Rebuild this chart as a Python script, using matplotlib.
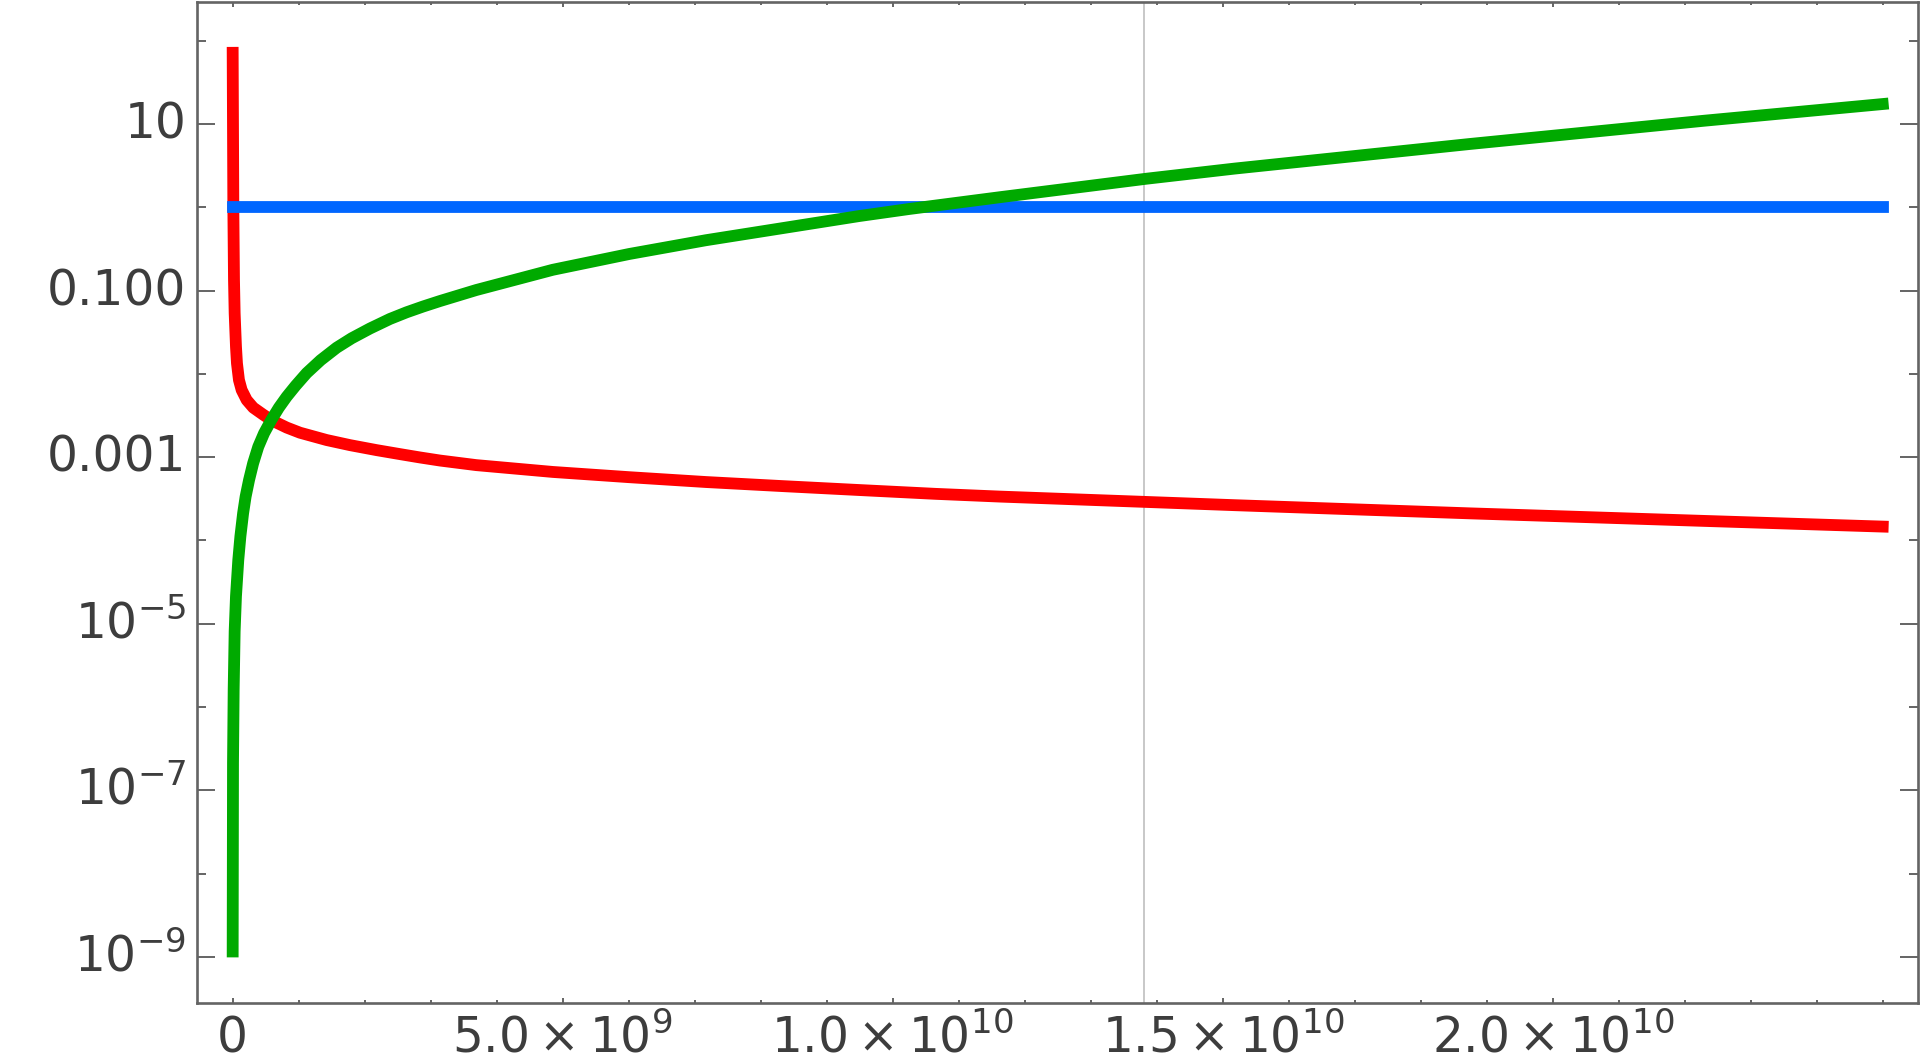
import numpy as np
import matplotlib
matplotlib.use("Agg")
import matplotlib.pyplot as plt
from matplotlib.ticker import NullFormatter
from matplotlib.transforms import ScaledTranslation

# ---------------- data (time in 1e9 years, values as log10) ----------------
red_t = [0, 0.01, 0.02, 0.03, 0.05, 0.065, 0.095, 0.136, 0.212, 0.312, 0.464,
         0.591, 0.818, 1.02, 1.424, 1.777, 2.18, 2.535, 2.838, 3.141, 3.69, 4.85,
         6.01, 7.17, 8.33, 9.49, 10.65, 11.63, 13.84, 15.18, 18.74, 22.3, 25.0]
red_log = [1.855, 0.0, -0.873, -1.273, -1.673, -1.873, -2.073, -2.193, -2.313,
           -2.405, -2.49, -2.557, -2.644, -2.706, -2.794, -2.855, -2.915, -2.963,
           -3.003, -3.04, -3.095, -3.177, -3.24, -3.298, -3.347, -3.394, -3.44,
           -3.473, -3.537, -3.576, -3.674, -3.765, -3.833]

blue_t = [0, 25.0]
blue_log = [0.0, 0.0]

green_t = [0, 0.005, 0.015, 0.03, 0.05, 0.085, 0.117, 0.158, 0.196, 0.248, 0.31,
           0.388, 0.475, 0.585, 0.70, 0.818, 0.955, 1.121, 1.333, 1.576, 1.803,
           2.08, 2.383, 2.636, 2.888, 3.141, 3.69, 4.85, 6.01, 7.17, 8.33, 9.49,
           10.25, 11.63, 13.84, 15.18, 18.74, 22.3, 25.0]
green_log = [-8.934, -6.67, -5.79, -5.09, -4.67, -4.234, -3.95, -3.673, -3.474,
             -3.274, -3.073, -2.874, -2.713, -2.553, -2.405, -2.274, -2.14, -1.99,
             -1.835, -1.685, -1.572, -1.455, -1.34, -1.26, -1.19, -1.125, -0.993,
             -0.75, -0.56, -0.395, -0.25, -0.105, -0.02, 0.122, 0.343, 0.465, 0.76,
             1.04, 1.24]

t_now = 13.8  # 1e9 years

x_major = [0, 5e9, 1e10, 1.5e10, 2e10]
x_labels = ["0", r"$5.0\times10^{9}$", r"$1.0\times10^{10}$",
            r"$1.5\times10^{10}$", r"$2.0\times10^{10}$"]
x_minor = [i * 1e9 for i in range(0, 26)]

y_major = [10, 0.1, 0.001, 1e-5, 1e-7, 1e-9]
y_labels = ["10", "0.100", "0.001", r"$10^{-5}$", r"$10^{-7}$", r"$10^{-9}$"]
y_minor = [100, 1, 0.01, 1e-4, 1e-6, 1e-8]

# ---------------- figure ----------------
plt.rcParams["font.family"] = ["DejaVu Sans"]
plt.rcParams["mathtext.fontset"] = "dejavusans"

W, H = 1920, 1060
fig = plt.figure(figsize=(W / 100, H / 100), dpi=100)
L, R, T, B = 197.3, 1917.7, 2.0, 1002.7
ax = fig.add_axes([L / W, 1 - B / H, (R - L) / W, (B - T) / H])

ax.set_yscale("log")
ax.set_xlim(-0.536e9, 25.53e9)
ax.set_ylim(10 ** -9.549, 10 ** 2.465)


def xs(t):
    return np.asarray(t, dtype=float) * 1e9


def ys(lg):
    return 10.0 ** np.asarray(lg, dtype=float)


ax.axvline(t_now * 1e9, color="#c8c8c8", lw=1.4, zorder=1)
common = dict(lw=8.5, solid_capstyle="projecting", solid_joinstyle="round")
ax.plot(xs(red_t), ys(red_log), color="#ff0000", zorder=2, **common)
ax.plot(xs(blue_t), ys(blue_log), color="#0066ff", zorder=3, **common)
ax.plot(xs(green_t), ys(green_log), color="#00aa00", zorder=4, **common)

frame_col = "#646464"
text_col = "#3d3d3d"
for s in ax.spines.values():
    s.set_color(frame_col)
    s.set_linewidth(1.9)

ax.set_xticks(x_major, x_labels)
ax.set_xticks(x_minor, minor=True)
ax.set_yticks(y_major, y_labels)
ax.set_yticks(y_minor, minor=True)
ax.yaxis.set_minor_formatter(NullFormatter())
ax.xaxis.set_minor_formatter(NullFormatter())

ax.tick_params(axis="both", which="both", direction="in", color=frame_col,
               width=1.4, labelcolor=text_col, labelsize=35)
ax.tick_params(axis="y", which="major", length=12.7, left=True, right=True, pad=8)
ax.tick_params(axis="y", which="minor", length=6.5, left=True, right=True)
ax.tick_params(axis="x", which="major", length=3.6, top=True, bottom=True, pad=36.2)
ax.tick_params(axis="x", which="minor", length=2.5, top=True, bottom=True)

for lbl in ax.get_xticklabels():
    lbl.set_verticalalignment("baseline")
off = ScaledTranslation(0, -14.4 / 100, fig.dpi_scale_trans)
for lbl in ax.get_yticklabels():
    lbl.set_verticalalignment("baseline")
    lbl.set_transform(lbl.get_transform() + off)

fig.savefig("out.png", dpi=100, facecolor="white")
